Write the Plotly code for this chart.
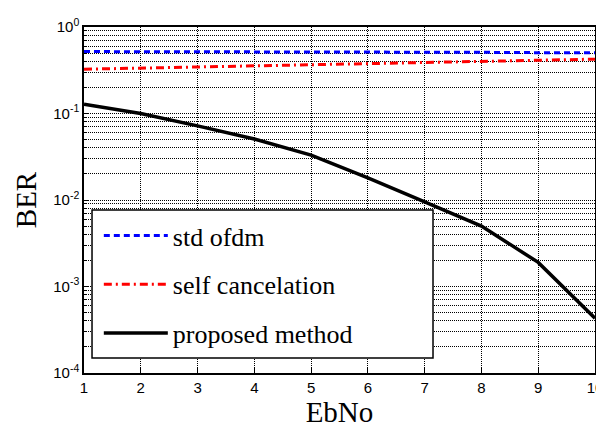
import plotly.graph_objects as go

ebno = [1, 2, 3, 4, 5, 6, 7, 8, 9, 10]
ber_std_ofdm = [0.52, 0.52, 0.52, 0.515, 0.515, 0.51, 0.51, 0.51, 0.505, 0.505]
ber_self_cancel = [0.325, 0.335, 0.345, 0.355, 0.365, 0.375, 0.385, 0.395, 0.41, 0.425]
ber_proposed = [0.128, 0.1, 0.072, 0.0507, 0.033, 0.018, 0.0095, 0.005, 0.0019, 0.00043]

y_tickvals = [1e-4, 1e-3, 1e-2, 1e-1, 1e0]
y_ticktext = ["10<sup>-4</sup>", "10<sup>-3</sup>", "10<sup>-2</sup>", "10<sup>-1</sup>", "10<sup>0</sup>"]
y_minor = [k * 10 ** d for d in range(-4, 0) for k in range(2, 10)]

fig = go.Figure()
fig.add_trace(go.Scatter(x=ebno, y=ber_std_ofdm, mode="lines", name="std ofdm",
                         legendgroup="a",
                         line=dict(color="#0000FF", width=3, dash="6px,4px")))
fig.add_trace(go.Scatter(x=ebno, y=ber_self_cancel, mode="lines", name="self cancelation",
                         legendgroup="b",
                         line=dict(color="#FF0000", width=3, dash="8px,4px,2px,4px")))
fig.add_trace(go.Scatter(x=ebno, y=ber_proposed, mode="lines", name="proposed method",
                         legendgroup="c",
                         line=dict(color="#000000", width=3.5)))

tick_font = dict(family="Liberation Sans, Arial", size=15, color="black")
title_font = dict(family="Liberation Serif, Times New Roman", size=29, color="black")
grid_dash = "1px,1px"

# White framed panel that holds the legend entries
fig.add_shape(type="rect", xref="paper", yref="paper",
              x0=0.0157, x1=0.683, y0=0.0434, y1=0.471,
              fillcolor="white", line=dict(color="black", width=1.5), layer="above")

fig.update_layout(
    width=596, height=429,
    margin=dict(l=84, r=1, t=27, b=56),
    paper_bgcolor="white", plot_bgcolor="white",
    showlegend=True,
    legend=dict(
        x=0.029, y=0.465, xanchor="left", yanchor="top",
        bgcolor="rgba(0,0,0,0)", borderwidth=0,
        font=dict(family="Liberation Serif, Times New Roman", size=26, color="black"),
        itemwidth=64, tracegroupgap=12, traceorder="grouped",
    ),
    xaxis=dict(
        range=[1, 10], tickvals=ebno, ticks="inside", ticklen=5, tickcolor="black",
        showline=True, linecolor="black", linewidth=1.5, mirror=True,
        showgrid=True, gridcolor="black", griddash=grid_dash, gridwidth=1,
        zeroline=False, tickfont=tick_font, ticklabeloverflow="allow",
        automargin=False,
        title=dict(text="EbNo", font=title_font, standoff=2),
    ),
    yaxis=dict(
        type="log", range=[-4, 0], tickvals=y_tickvals, ticktext=y_ticktext,
        ticks="inside", ticklen=5, tickcolor="black",
        showline=True, linecolor="black", linewidth=1.5, mirror=True,
        showgrid=True, gridcolor="black", griddash=grid_dash, gridwidth=1,
        minor=dict(tickvals=y_minor, ticks="inside", ticklen=3, tickcolor="black",
                   showgrid=True, gridcolor="black", griddash=grid_dash, gridwidth=1),
        zeroline=False, tickfont=tick_font, automargin=False,
        title=dict(text="BER", font=title_font, standoff=8),
    ),
)

fig.write_html("out.html")
